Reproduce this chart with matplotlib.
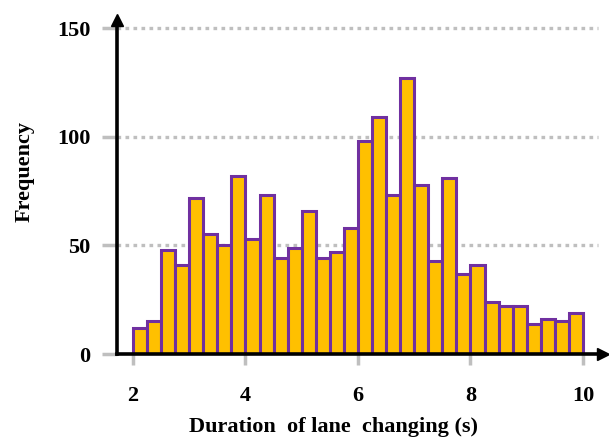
import matplotlib
matplotlib.use("Agg")
import matplotlib.pyplot as plt
import numpy as np

# histogram of lane-change durations, bins of 0.25 s from 2 to 10
bin_start = 2.0
bin_width = 0.25
counts = [12, 15, 48, 41, 72, 55, 50, 82, 53, 73, 44, 49, 66, 44, 47, 58,
          98, 109, 73, 127, 78, 43, 81, 37, 41, 24, 22, 22, 14, 16, 15, 19]
x_ticks = [2, 4, 6, 8, 10]
y_ticks = [0, 50, 100, 150]

plt.rcParams['font.family'] = ['Liberation Serif', 'DejaVu Serif']
plt.rcParams['font.weight'] = 'bold'

fig = plt.figure(figsize=(6.09, 4.48), dpi=100)
ax = fig.add_axes([117 / 609, 94 / 448, 486 / 609, 334 / 448])

lefts = bin_start + bin_width * np.arange(len(counts))
ax.bar(lefts, counts, width=bin_width, align='edge', color='#FFC000',
       edgecolor='#7030A0', linewidth=2.2, zorder=3)

ax.set_xlim(1.716, 10.356)
ax.set_ylim(0, 153.7)

# dotted grid lines
for t in y_ticks[1:]:
    ax.axhline(t, xmin=0, xmax=0.99, color='#BFBFBF', lw=2.4,
               linestyle=(0, (1.1, 1.3)), zorder=1)

ax.set_xticks(x_ticks)
ax.set_yticks(y_ticks)
ax.tick_params(axis='x', length=8, width=2.5, color='#BFBFBF', pad=15,
               labelsize=16)
ax.tick_params(axis='y', length=11, width=2.5, color='#BFBFBF', pad=8,
               labelsize=16)
for lab in ax.get_xticklabels() + ax.get_yticklabels():
    lab.set_fontweight('bold')

for s in ['top', 'right']:
    ax.spines[s].set_visible(False)
for s in ['left', 'bottom']:
    ax.spines[s].set_linewidth(2.6)
    ax.spines[s].set_zorder(4)

# arrow heads on the axes
ax.plot(1, 0, '>k', ms=9, transform=ax.get_yaxis_transform(), clip_on=False, zorder=5)
ax.plot(0, 1, '^k', ms=9, transform=ax.transAxes, clip_on=False, zorder=5)

ax.set_xlabel('Duration  of lane  changing (s)', fontsize=16, fontweight='bold')
ax.set_ylabel('Frequency', fontsize=16, fontweight='bold')
ax.xaxis.set_label_coords(0.446, -0.19)
ax.yaxis.set_label_coords(-0.17, 0.545)

fig.savefig('out.png', dpi=100)
